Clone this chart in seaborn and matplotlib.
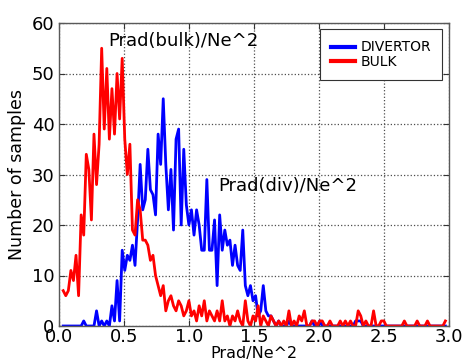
import numpy as np
import pandas as pd
import matplotlib
matplotlib.use("Agg")
import matplotlib.pyplot as plt
import seaborn as sns

# Histogram bin centres (Prad/Ne^2), 150 bins
bin_first, bin_last, n_bins = 0.03, 2.97, 150

divertor_counts = [
    0, 0, 0, 0, 0, 0, 0, 0, 1, 0,
    0, 0, 0, 3, 0, 1, 0, 1, 0, 4,
    1, 9, 1, 15, 11, 14, 13, 16, 12, 21,
    32, 23, 25, 35, 27, 26, 22, 38, 32, 45,
    32, 23, 31, 19, 37, 39, 20, 35, 24, 20,
    23, 18, 23, 20, 15, 15, 29, 15, 15, 21,
    8, 22, 15, 19, 16, 17, 12, 16, 12, 11,
    19, 8, 6, 8, 5, 6, 2, 3, 8, 3,
    2, 2, 1, 0, 1, 0, 0, 0, 1, 0,
    0, 0, 0, 0, 0, 0, 0, 1, 0, 0,
    1, 0, 0, 0, 0, 0, 0, 0, 0, 0,
    0, 0, 0, 0, 1, 1, 1, 0, 0, 0,
    0, 0, 0, 0, 0, 0, 0, 0, 0, 0,
    0, 0, 0, 0, 0, 0, 0, 0, 0, 0,
    0, 0, 0, 0, 0, 0, 0, 0, 0, 0,
]

bulk_counts = [
    7, 6, 7, 11, 9, 14, 6, 22, 18, 34,
    31, 21, 38, 28, 36, 55, 39, 51, 37, 47,
    38, 50, 41, 53, 37, 30, 36, 19, 18, 25,
    23, 17, 17, 16, 13, 14, 10, 8, 6, 8,
    3, 5, 6, 4, 3, 5, 4, 2, 3, 5,
    2, 3, 1, 4, 2, 5, 1, 3, 2, 1,
    3, 1, 5, 1, 2, 0, 2, 1, 3, 1,
    0, 5, 1, 0, 2, 1, 4, 0, 2, 1,
    0, 2, 1, 0, 1, 0, 1, 0, 3, 0,
    1, 0, 2, 1, 3, 0, 0, 1, 1, 0,
    1, 1, 0, 0, 1, 0, 0, 0, 1, 0,
    1, 0, 1, 0, 0, 3, 2, 0, 1, 0,
    0, 3, 0, 0, 1, 1, 0, 0, 0, 0,
    0, 0, 0, 1, 0, 0, 0, 0, 1, 0,
    0, 0, 1, 0, 0, 0, 0, 0, 0, 1,
]

series_names = ["DIVERTOR", "BULK"]
series_colors = ["#0000ff", "#ff0000"]
x_ticks = [0.0, 0.5, 1.0, 1.5, 2.0, 2.5, 3.0]
y_ticks = [0, 10, 20, 30, 40, 50, 60]

centres = np.linspace(bin_first, bin_last, n_bins)
df = pd.concat([
    pd.DataFrame({"x": centres, "count": divertor_counts, "series": series_names[0]}),
    pd.DataFrame({"x": centres, "count": bulk_counts, "series": series_names[1]}),
])

plt.rcParams["font.family"] = ["DejaVu Sans"]
fig = plt.figure(figsize=(4.63, 3.62), dpi=100)
ax = fig.add_axes([59.3 / 463, 1 - 326 / 362, (449.3 - 59.3) / 463, (326 - 23) / 362])

sns.lineplot(data=df, x="x", y="count", hue="series", hue_order=series_names,
             palette=dict(zip(series_names, series_colors)), linewidth=2.0,
             estimator=None, sort=True, ax=ax)

ax.set_xlim(0, 3.0)
ax.set_ylim(0, 60)
ax.set_xticks(x_ticks)
ax.set_yticks(y_ticks)
ax.set_xticklabels([f"{v:.1f}" for v in x_ticks])
ax.set_yticklabels([str(v) for v in y_ticks])
ax.tick_params(direction="in", top=True, right=True, length=4, width=0.8,
               labelsize=13, colors="0.2", labelcolor="black")
ax.tick_params(axis="x", pad=1.5)
ax.grid(True, linestyle=":", color="0.3", linewidth=0.9)
for s in ax.spines.values():
    s.set_color("0.35")
    s.set_linewidth(1.0)

ax.set_xlabel("Prad/Ne^2", fontsize=11.5, labelpad=-0.3)
ax.set_ylabel("Number of samples", fontsize=12.5, labelpad=4)

ax.text(0.375, 56.5, "Prad(bulk)/Ne^2", fontsize=13, va="center", ha="left")
ax.text(1.22, 27.8, "Prad(div)/Ne^2", fontsize=13, va="center", ha="left")

leg = ax.legend(loc="upper right", bbox_to_anchor=(0.981, 0.979), borderaxespad=0,
                fontsize=10, frameon=True, fancybox=False, framealpha=1,
                edgecolor="0.2", handlelength=1.7, handletextpad=0.4,
                borderpad=0.8, labelspacing=0.05, title=None)
leg.get_frame().set_linewidth(0.8)
for line in leg.get_lines():
    line.set_linewidth(3)

fig.savefig("out.png", dpi=100)
